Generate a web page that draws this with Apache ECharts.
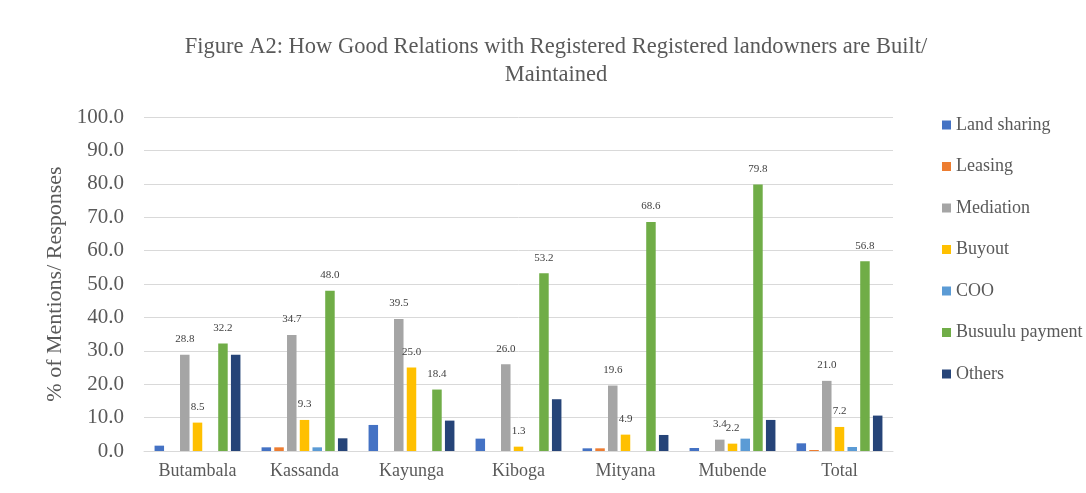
<!DOCTYPE html>
<html>
<head>
<meta charset="utf-8">
<script src="https://cdn.jsdelivr.net/npm/echarts@6/dist/echarts.min.js"></script>
<style>
  html, body { margin: 0; padding: 0; background: #fff; }
  #chart { width: 1086px; height: 493px; }
</style>
</head>
<body>
<div id="chart"></div>
<script>
// districts on the x axis
const districts = ['Butambala', 'Kassanda', 'Kayunga', 'Kiboga', 'Mityana', 'Mubende', 'Total']

// % of mentions per approach
const landSharing = [1.6, 1.1, 7.8, 3.7, 0.8, 0.9, 2.3]
const leasing = [0, 1.1, 0, 0, 0.8, 0, 0.3]
const mediation = [28.8, 34.7, 39.5, 26.0, 19.6, 3.4, 21.0]
const buyout = [8.5, 9.3, 25.0, 1.3, 4.9, 2.2, 7.2]
const coo = [0, 1.1, 0, 0, 0, 3.7, 1.2]
const busuulu = [32.2, 48.0, 18.4, 53.2, 68.6, 79.8, 56.8]
const others = [28.8, 3.8, 9.1, 15.5, 4.8, 9.3, 10.6]

const seriesDefs = [
  { name: 'Land sharing', data: landSharing, color: '#4472c4', label: false },
  { name: 'Leasing', data: leasing, color: '#ed7d31', label: false },
  { name: 'Mediation', data: mediation, color: '#a5a5a5', label: true },
  { name: 'Buyout', data: buyout, color: '#ffc000', label: true },
  { name: 'COO', data: coo, color: '#5b9bd5', label: false },
  { name: 'Busuulu payment', data: busuulu, color: '#70ad47', label: true },
  { name: 'Others', data: others, color: '#264478', label: false }
]

const fontFamily = '"Liberation Serif", "DejaVu Serif", serif'
const chart = echarts.init(document.getElementById('chart'))

const series = seriesDefs.map(s => ({
  name: s.name,
  type: 'bar',
  data: s.data,
  barWidth: 9.5,
  barGap: '34%',
  itemStyle: { color: s.color },
  label: {
    show: s.label,
    position: 'top',
    distance: 10,
    formatter: p => p.value.toFixed(1),
    fontFamily: fontFamily,
    fontSize: 11,
    color: '#404040'
  },
  animation: false
}))

chart.setOption({
  backgroundColor: '#ffffff',
  textStyle: { fontFamily: fontFamily },
  title: {
    text: 'Figure A2: How Good Relations with Registered Registered landowners are Built/\nMaintained',
    left: 551,
    top: 28,
    textAlign: 'center',
    textStyle: {
      fontFamily: fontFamily,
      fontWeight: 'normal',
      fontSize: 22.5,
      lineHeight: 28,
      color: '#595959'
    }
  },
  legend: {
    orient: 'vertical',
    left: 937,
    top: 111,
    itemWidth: 9,
    itemHeight: 9,
    itemGap: 23.5,
    icon: 'rect',
    textStyle: { fontFamily: fontFamily, fontSize: 18, color: '#595959' },
    data: seriesDefs.map(s => s.name)
  },
  grid: {
    left: 144,
    right: 193,
    top: 117,
    bottom: 42
  },
  xAxis: {
    type: 'category',
    data: districts,
    axisTick: { show: false },
    axisLine: { lineStyle: { color: '#d9d9d9', width: 1 } },
    axisLabel: { fontFamily: fontFamily, fontSize: 18, color: '#595959', margin: 11 }
  },
  yAxis: {
    type: 'value',
    min: 0,
    max: 100,
    interval: 10,
    name: '% of Mentions/ Responses',
    nameLocation: 'middle',
    nameGap: 78,
    nameTextStyle: { fontFamily: fontFamily, fontSize: 22, color: '#595959' },
    axisLine: { show: false },
    axisTick: { show: false },
    axisLabel: {
      fontFamily: fontFamily,
      fontSize: 21,
      color: '#595959',
      margin: 20,
      formatter: v => v.toFixed(1)
    },
    splitLine: { lineStyle: { color: '#d9d9d9', width: 1 } }
  },
  series: series
})
</script>
</body>
</html>
